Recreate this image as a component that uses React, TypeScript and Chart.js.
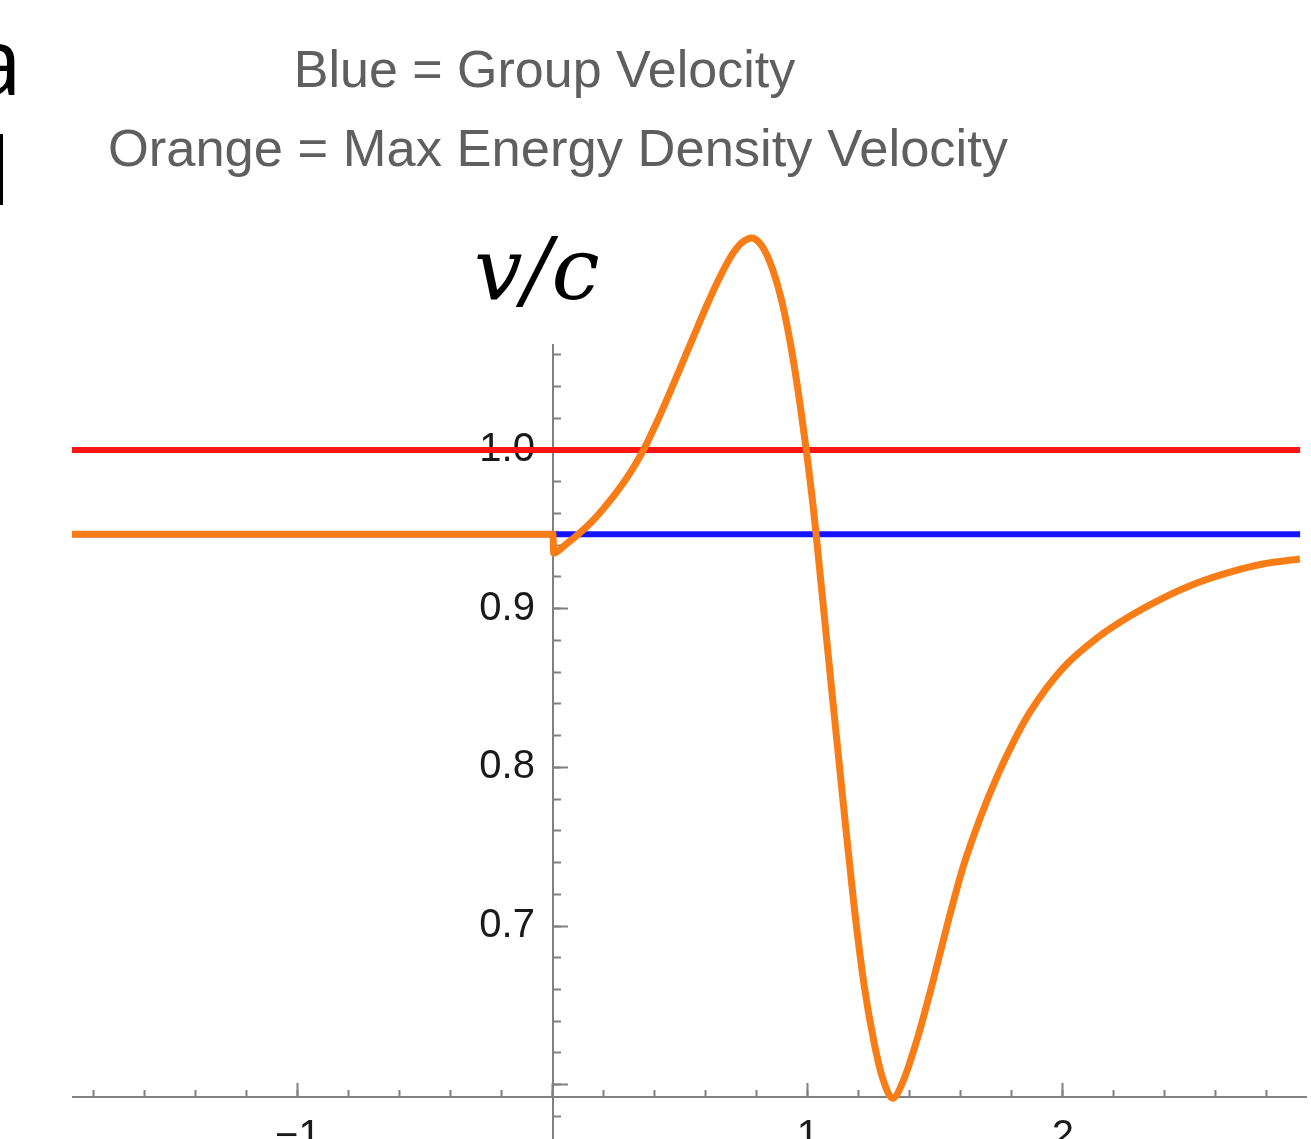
import { useEffect, useRef } from "react";
import { Chart, registerables } from "chart.js";

Chart.register(...registerables);

// Axis ranges (data units)
const X_MIN = -1.882;
const X_MAX = 2.953;
const Y_MIN = 0.5658;
const Y_MAX = 1.0662;
const Y_CROSS = 0.5925; // where the horizontal axis crosses the vertical one

// Red: speed of light
const redX = [-1.886, 2.93];
const redY = [1.0, 1.0];

// Blue: group velocity
const blueX = [-1.886, 2.93];
const blueY = [0.947, 0.947];

// Orange: max energy density velocity
const orangeX = [
  -1.886, 0, 0.003, 0.05, 0.1, 0.15, 0.2, 0.25, 0.3, 0.35, 0.4, 0.45, 0.5, 0.55, 0.6, 0.65, 0.7, 0.74, 0.78,
  0.82, 0.86, 0.9, 0.94, 0.98, 1.02, 1.06, 1.1, 1.14, 1.18, 1.22, 1.26, 1.295, 1.333,
  1.37, 1.427, 1.49, 1.545, 1.608, 1.675, 1.741, 1.804, 1.871, 2.0, 2.133, 2.263, 2.392, 2.525, 2.655, 2.784, 2.929,
];
const orangeY = [
  0.947, 0.947, 0.935, 0.9405, 0.947, 0.9545, 0.9635, 0.9735, 0.985, 0.9985, 1.015, 1.033, 1.052, 1.071, 1.09, 1.1075, 1.1225, 1.1305, 1.1337,
  1.1285, 1.1145, 1.092, 1.059, 1.016, 0.965, 0.902, 0.838, 0.775, 0.714, 0.663, 0.626, 0.603, 0.5915,
  0.601, 0.628, 0.665, 0.7, 0.737, 0.768, 0.794, 0.8155, 0.835, 0.8626, 0.8815, 0.8954, 0.9067, 0.9162, 0.9231, 0.9282, 0.9313,
];

// Tick labels
const xTickValues = [-1, 1, 2];
const xTickLabels = ["\u22121", "1", "2"];
const yTickValues = [0.7, 0.8, 0.9, 1.0];
const yTickLabels = ["0.7", "0.8", "0.9", "1.0"];

const titleLine1 = "Blue = Group Velocity";
const titleLine2 = "Orange = Max Energy Density Velocity";
const axisLabel = "v/c";

const AXIS_COLOR = "#808080";
const LABEL_FONT = { family: "'Liberation Sans', Arial, sans-serif", size: 40 };

const pts = (xs: number[], ys: number[]) => xs.map((x, i) => ({ x, y: ys[i] }));

const lookup = (values: number[], labels: string[]) => (v: any) => {
  const n = Number(v);
  const i = values.findIndex((t) => Math.abs(t - n) < 1e-6);
  return i >= 0 ? labels[i] : "";
};

const zeroFit = (s: any) => {
  if (s.isHorizontal()) s.height = 0;
  else s.width = 0;
  s.paddingLeft = 0;
  s.paddingRight = 0;
  s.paddingTop = 0;
  s.paddingBottom = 0;
};

export default function App() {
  const ref = useRef<HTMLCanvasElement | null>(null);

  useEffect(() => {
    if (!ref.current) return;
    const chart = new Chart(ref.current, {
      type: "line",
      data: {
        datasets: [
          {
            label: "Max Energy Density Velocity",
            data: pts(orangeX, orangeY),
            borderColor: "#f97d17",
            borderWidth: 7,
            pointRadius: 0,
            cubicInterpolationMode: "monotone",
            borderJoinStyle: "round",
            clip: false,
            xAxisID: "x",
            yAxisID: "y",
          },
          {
            label: "Group Velocity",
            data: pts(blueX, blueY),
            borderColor: "#1414ff",
            borderWidth: 6,
            pointRadius: 0,
            clip: false,
            xAxisID: "x",
            yAxisID: "y",
          },
          {
            label: "c",
            data: pts(redX, redY),
            borderColor: "#ff1414",
            borderWidth: 6,
            pointRadius: 0,
            clip: false,
            xAxisID: "x",
            yAxisID: "y",
          },
        ],
      },
      options: {
        animation: false,
        responsive: false,
        events: [],
        layout: { padding: { left: 73, right: 5, top: 345, bottom: 0 } },
        plugins: { legend: { display: false }, tooltip: { enabled: false }, title: { display: false } },
        scales: {
          x: {
            type: "linear",
            min: X_MIN,
            max: X_MAX,
            position: { y: Y_CROSS } as any,
            afterFit: zeroFit,
            ticks: {
              stepSize: 1,
              includeBounds: false,
              autoSkip: false,
              maxRotation: 0,
              padding: 31,
              color: "#1a1a1a",
              font: LABEL_FONT,
              callback: lookup(xTickValues, xTickLabels),
            },
            grid: {
              display: true,
              drawOnChartArea: false,
              drawTicks: true,
              tickLength: -15,
              tickWidth: 2,
              tickColor: AXIS_COLOR,
            },
            border: { display: true, color: AXIS_COLOR, width: 2 },
          },
          xMinor: {
            type: "linear",
            axis: "x",
            min: X_MIN,
            max: X_MAX,
            position: { y: Y_CROSS } as any,
            afterFit: zeroFit,
            ticks: { stepSize: 0.2, includeBounds: false, autoSkip: false, display: false },
            grid: {
              display: true,
              drawOnChartArea: false,
              drawTicks: true,
              tickLength: -7,
              tickWidth: 2,
              tickColor: AXIS_COLOR,
            },
            border: { display: false },
          },
          y: {
            type: "linear",
            min: Y_MIN,
            max: Y_MAX,
            position: { x: 0 } as any,
            afterFit: zeroFit,
            ticks: { stepSize: 0.1, includeBounds: false, autoSkip: false, display: false },
            grid: {
              display: true,
              drawOnChartArea: false,
              drawTicks: true,
              tickLength: -16,
              tickWidth: 2,
              tickColor: AXIS_COLOR,
            },
            border: { display: true, color: AXIS_COLOR, width: 2 },
          },
          yMinor: {
            type: "linear",
            axis: "y",
            min: Y_MIN,
            max: Y_MAX,
            position: { x: 0 } as any,
            afterFit: zeroFit,
            ticks: { stepSize: 0.02, includeBounds: false, autoSkip: false, display: false },
            grid: {
              display: true,
              drawOnChartArea: false,
              drawTicks: true,
              tickLength: -8,
              tickWidth: 2,
              tickColor: AXIS_COLOR,
            },
            border: { display: false },
          },
          yLabels: {
            type: "linear",
            axis: "y",
            min: Y_MIN,
            max: Y_MAX,
            position: { x: -0.0706 } as any,
            afterFit: zeroFit,
            ticks: {
              stepSize: 0.1,
              includeBounds: false,
              autoSkip: false,
              color: "#1a1a1a",
              font: LABEL_FONT,
              callback: lookup(yTickValues, yTickLabels),
            },
            grid: { display: false, drawTicks: false },
            border: { display: false },
          },
        },
      } as any,
    });
    return () => chart.destroy();
  }, []);

  const sans = "'Liberation Sans', Arial, sans-serif";

  return (
    <div
      style={{
        position: "absolute",
        left: 0,
        top: 0,
        width: 1311,
        height: 1139,
        overflow: "hidden",
        background: "#ffffff",
      }}
    >
      <canvas ref={ref} width={1311} height={1139} style={{ position: "absolute", left: 0, top: 0 }} />
      <div
        style={{
          position: "absolute",
          left: -200,
          width: 222,
          top: 4,
          textAlign: "right",
          fontFamily: "'Open Sans', sans-serif",
          fontSize: 93,
          lineHeight: "110px",
          color: "#000",
        }}
      >
        a
      </div>
      <div
        style={{
          position: "absolute",
          left: -200,
          width: 211,
          top: 114,
          textAlign: "right",
          fontFamily: "'Open Sans', sans-serif",
          fontSize: 93,
          lineHeight: "110px",
          color: "#000",
        }}
      >
        l
      </div>
      <div
        style={{
          position: "absolute",
          left: 44.5,
          width: 1000,
          top: 43,
          textAlign: "center",
          fontFamily: sans,
          fontSize: 52,
          lineHeight: "52px",
          color: "#5f5f5f",
          whiteSpace: "nowrap",
        }}
      >
        {titleLine1}
      </div>
      <div
        style={{
          position: "absolute",
          left: 58,
          width: 1000,
          top: 122,
          textAlign: "center",
          fontFamily: sans,
          fontSize: 52.5,
          lineHeight: "52px",
          color: "#5f5f5f",
          whiteSpace: "nowrap",
        }}
      >
        {titleLine2}
      </div>
      <div
        style={{
          position: "absolute",
          left: 474,
          top: 229,
          fontFamily: "'DejaVu Serif', serif",
          fontStyle: "italic",
          fontSize: 86,
          lineHeight: "80px",
          color: "#000",
          whiteSpace: "nowrap",
        }}
      >
        {axisLabel}
      </div>
    </div>
  );
}
